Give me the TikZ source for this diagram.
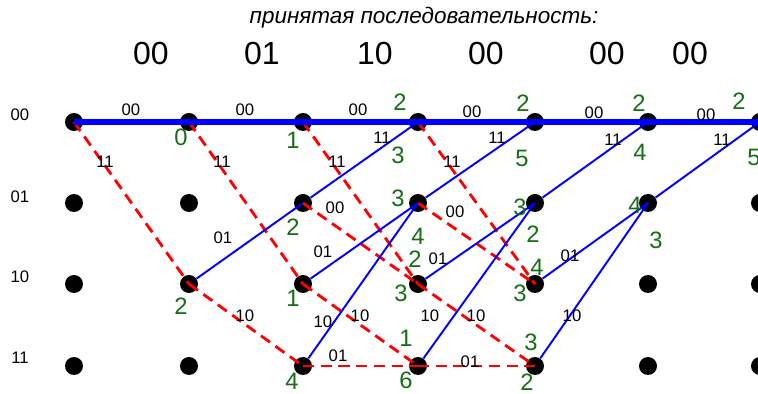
\documentclass[tikz,border=0pt]{standalone}
\usepackage{fontspec}
\setmainfont{Liberation Sans}
\usetikzlibrary{positioning}
\usepackage{xcolor}
\definecolor{metricgreen}{RGB}{20,110,20}

\begin{document}
\begin{tikzpicture}[x=0.02cm,y=-0.02cm,
  dot/.style={circle,fill=black,inner sep=0pt,minimum size=0.36cm},
  best/.style={blue,line width=3.6pt},
  zero/.style={blue,line width=1.1pt},
  one/.style={red,line width=1.6pt,dash pattern=on 6.3pt off 3.8pt},
  elab/.style={font=\fontsize{9.5}{10}\selectfont,inner sep=0pt},
  metric/.style={text=metricgreen,font=\fontsize{13.5}{14}\selectfont,inner sep=0pt}]
\useasboundingbox (0,0) rectangle (758,394);
% heading
\node[font=\fontsize{12.8}{14}\selectfont\itshape] (title) at (424,18) {принятая последовательность:};
\foreach \x/\t [count=\i] in {151/00,262/01,375/10,486/00,607/00,690/00}
  \node[font=\fontsize{18.2}{20}\selectfont] (rx\i) at (\x,53) {\t};
% states
\foreach \r/\y in {00/115,01/197,10/277,11/358}
  \node[elab] (st\r) at (20,\y) {\r};
\foreach \c/\x in {0/74,1/189,2/303,3/418,4/535,5/648,6/760}
  \foreach \r/\y in {00/122,01/203,10/284,11/366}
    \node[dot] (v\c-\r) at (\x,\y) {};
% branches for input 1
\foreach \a/\b in {0-00/1-10,1-00/2-10,1-10/2-11,2-00/3-10,2-01/3-10,2-10/3-11,
  2-11/3-11,3-00/4-10,3-01/4-10,3-10/4-11,3-11/4-11}
  \draw[one] (v\a.center) -- (v\b.center);
% branches for input 0
\foreach \a/\b in {1-10/2-01,2-01/3-00,2-10/3-01,2-11/3-01,3-01/4-00,3-10/4-01,
  3-11/4-01,4-01/5-00,4-10/5-01,4-11/5-01,5-01/6-00}
  \draw[zero] (v\a) -- (v\b.center);
% surviving path
\draw[best] (v0-00.center) -- (v1-00.center) -- (v2-00.center) -- (v3-00.center)
  -- (v4-00.center) -- (v5-00.center) -- (v6-00.center);
% branch outputs
\foreach \x/\y/\t [count=\i] in {131/110/00,245/110/00,358/110/00,472/112/00,594/113/00,706/115/00,
  105/162/11,222/162/11,337/162/11,452/162/11,382/138/11,497/138/11,613/140/11,722/140/11,
  335/208/00,455/212/00,223/238/01,323/252/01,438/259/01,570/256/01,
  245/316/10,360/316/10,476/316/10,323/322/10,430/316/10,572/316/10,338/356/01,470/362/01}
  \node[elab] (o\i) at (\x,\y) {\t};
% path metrics
\foreach \x/\y/\t [count=\i] in {181/137/0,293/140/1,400/102/2,398/155/3,523/103/2,522/158/5,
  639/103/2,640/152/4,739/101/2,754/157/5,
  293/227/2,398/198/3,418/236/4,520/207/3,533/234/2,635/205/4,656/240/3,
  181/306/2,293/298/1,415/259/2,401/293/3,537/267/4,520/293/3,
  292/381/4,406/338/1,406/380/6,531/342/3,527/382/2}
  \node[metric] (m\i) at (\x,\y) {\t};
\end{tikzpicture}
\end{document}
